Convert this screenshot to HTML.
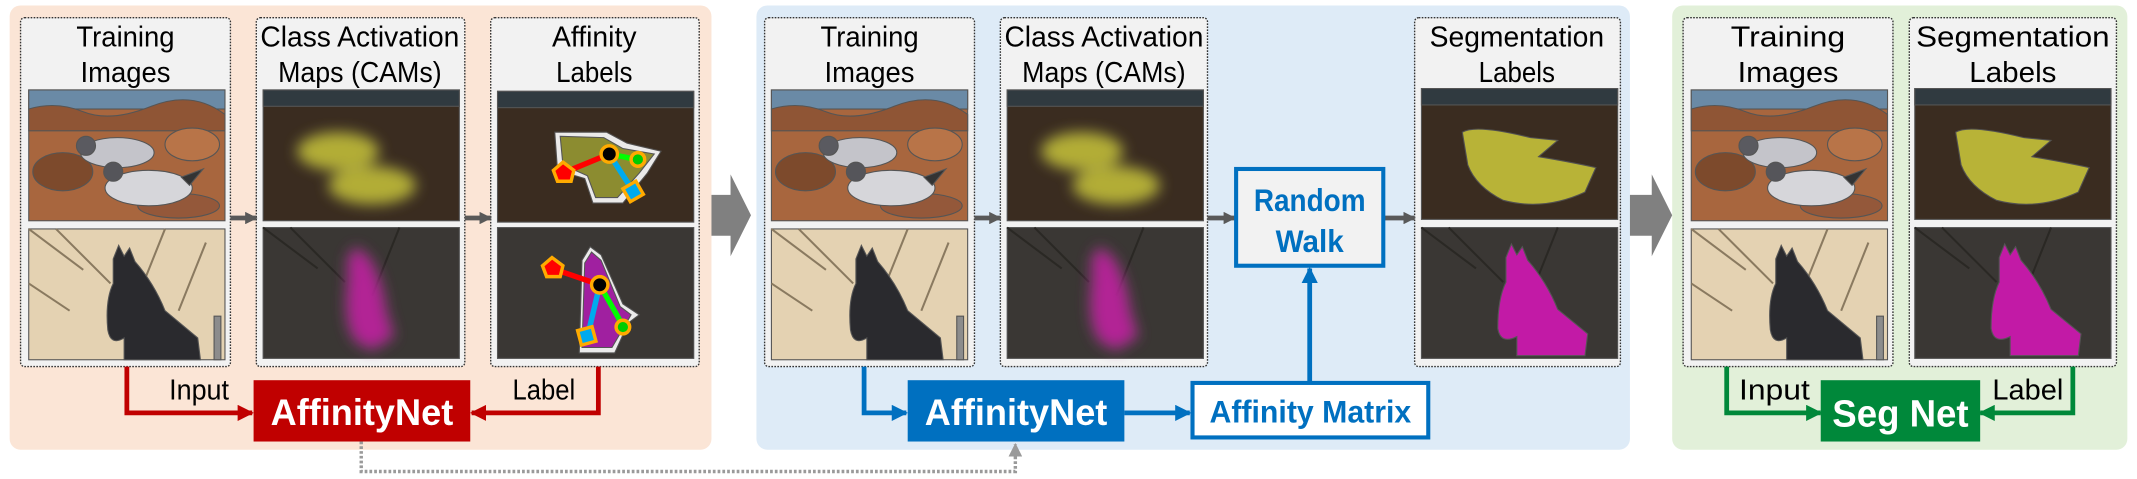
<!DOCTYPE html>
<html><head><meta charset="utf-8"><style>html,body{margin:0;padding:0;background:#fff}svg{display:block}</style></head>
<body>
<svg width="2137" height="479" viewBox="0 0 1568 351.5" xmlns="http://www.w3.org/2000/svg" font-family="'Liberation Sans', sans-serif">
<defs>
<filter id="bl" x="-50%" y="-50%" width="200%" height="200%"><feGaussianBlur stdDeviation="5"/></filter>
<g id="bird">
<rect width="144" height="96" fill="#a8663e"/>
<rect width="144" height="14" fill="#6a8aa6"/>
<path d="M0 14 Q20 8 40 16 T90 12 T144 18 V30 H0Z" fill="#8f5535"/>
<ellipse cx="25" cy="60" rx="22" ry="14" fill="#7d4a2c"/>
<ellipse cx="120" cy="40" rx="20" ry="12" fill="#b87448"/>
<ellipse cx="110" cy="85" rx="30" ry="9" fill="#94583a"/>
<ellipse cx="65" cy="46" rx="27" ry="11" fill="#c4c4ca"/>
<circle cx="42" cy="41" r="7" fill="#5a5a60"/>
<ellipse cx="88" cy="72" rx="32" ry="13" fill="#d6d6da"/>
<circle cx="62" cy="60" r="7" fill="#55555a"/>
<path d="M112 64 L128 58 L118 70Z" fill="#333"/>
</g>
<g id="horse">
<rect width="144" height="96" fill="#e4d2b2"/>
<path d="M0 0 L40 30 M20 0 L60 40 M100 0 L80 50 M130 10 L110 60 M0 40 L30 60" stroke="#8a7a60" stroke-width="1.5"/>
<path d="M62 22 L66 12 L70 20 L74 14 L78 24 Q92 40 100 60 L124 80 L126 96 H70 L70 80 Q60 86 58 74 Q56 52 62 40Z" fill="#2a2a2e"/>
<rect x="136" y="64" width="5" height="32" fill="#8c8c8c"/>
</g>
<g id="camb">
<rect width="144" height="96" fill="#3a2c20"/>
<rect width="144" height="12" fill="#303a40"/>
<g filter="url(#bl)" fill="#c8c43a" opacity="0.85"><ellipse cx="55" cy="45" rx="30" ry="14"/><ellipse cx="80" cy="70" rx="32" ry="14"/></g>
</g>
<g id="camh">
<rect width="144" height="96" fill="#3a3734"/>
<path d="M0 0 L40 30 M20 0 L60 40 M100 0 L80 50" stroke="#2a2824" stroke-width="1.5"/>
<g filter="url(#bl)" fill="#c020a0" opacity="0.9"><path d="M62 22 L68 14 L78 22 Q88 40 90 60 L96 80 L80 90 L68 84 Q58 70 62 40Z"/></g>
</g>
<g id="segb">
<rect width="144" height="96" fill="#3a2c20"/>
<rect width="144" height="12" fill="#303a40"/>
<path d="M30 32 Q40 26 80 36 L100 38 L86 50 Q110 54 128 58 L120 76 Q90 90 60 82 Q40 72 34 56Z" fill="#c6c23a" opacity="0.9"/>
</g>
<g id="segh">
<rect width="144" height="96" fill="#3a3734"/>
<path d="M0 0 L40 30 M20 0 L60 40 M100 0 L80 50" stroke="#2a2824" stroke-width="1.5"/>
<path d="M62 22 L66 12 L70 20 L74 14 L78 24 Q92 40 100 60 L122 78 L120 94 H70 L70 80 Q58 86 56 74 Q56 52 62 40Z" fill="#c21aa6"/>
</g>
<g id="affb">
<rect width="144" height="96" fill="#3a2c20"/>
<rect width="144" height="12" fill="#303a40"/>
<path d="M42 30 L80 30 L95 38 L120 44 L110 60 L92 82 L70 82 L64 64 L44 58Z" fill="#fff" opacity="0.9"/>
<path d="M46 33 L78 34 L92 42 L115 46 L104 60 L88 78 L72 78 L66 62 L48 54Z" fill="#8c8c30"/>
<g stroke-width="4"><line x1="48" y1="60" x2="82" y2="46" stroke="#f00"/><line x1="82" y1="46" x2="102" y2="50" stroke="#0f0"/><line x1="82" y1="46" x2="100" y2="74" stroke="#0ae"/></g>
<path d="M48 52 L56 58 L54 66 L44 66 L41 58Z" fill="#f00" stroke="#fa0" stroke-width="2.5"/>
<circle cx="82" cy="46" r="6" fill="#000" stroke="#fa0" stroke-width="2.5"/>
<circle cx="103" cy="50" r="5" fill="#0c0" stroke="#fa0" stroke-width="2.5"/>
<rect x="94" y="68" width="11" height="11" fill="#0ae" stroke="#fa0" stroke-width="2.5" transform="rotate(-30 99.5 73.5)"/>
</g>
<g id="affh">
<rect width="144" height="96" fill="#3a3734"/>
<path d="M62 24 L68 14 L76 20 L92 56 L104 64 L96 70 L86 92 L60 92 Z" fill="#fff" opacity="0.9"/>
<path d="M64 26 L69 18 L76 24 L90 58 L98 64 L84 88 L62 88 Z" fill="#a020a0"/>
<g stroke-width="4"><line x1="40" y1="30" x2="75" y2="42" stroke="#f00"/><line x1="75" y1="42" x2="92" y2="72" stroke="#0f0"/><line x1="75" y1="42" x2="66" y2="80" stroke="#0ae"/></g>
<path d="M40 22 L48 28 L46 36 L36 36 L33 28Z" fill="#f00" stroke="#fa0" stroke-width="2.5"/>
<circle cx="75" cy="42" r="6" fill="#000" stroke="#fa0" stroke-width="2.5"/>
<circle cx="92" cy="73" r="5" fill="#0c0" stroke="#fa0" stroke-width="2.5"/>
<rect x="60" y="74" width="11" height="11" fill="#0ae" stroke="#fa0" stroke-width="2.5" transform="rotate(-15 65.5 79.5)"/>
</g>
<marker id="ar" viewBox="0 0 10 10" refX="9" refY="5" markerWidth="3.4" markerHeight="3.4" orient="auto"><path d="M0 0L10 5L0 10Z" fill="#c00000"/></marker>
<marker id="ab" viewBox="0 0 10 10" refX="9" refY="5" markerWidth="3.4" markerHeight="3.4" orient="auto"><path d="M0 0L10 5L0 10Z" fill="#0070c0"/></marker>
<marker id="ag" viewBox="0 0 10 10" refX="9" refY="5" markerWidth="3.4" markerHeight="3.4" orient="auto"><path d="M0 0L10 5L0 10Z" fill="#00883a"/></marker>
<marker id="ak" viewBox="0 0 10 10" refX="9" refY="5" markerWidth="2.6" markerHeight="2.6" orient="auto"><path d="M0 0L10 5L0 10Z" fill="#595959"/></marker>
<marker id="ad" viewBox="0 0 10 10" refX="9" refY="5" markerWidth="4" markerHeight="4" orient="auto"><path d="M0 0L10 5L0 10Z" fill="#9a9a9a"/></marker>
</defs>

<rect x="7" y="4" width="515" height="326" rx="8" fill="#fbe5d6"/>
<rect x="555" y="4" width="641" height="326" rx="8" fill="#deebf7"/>
<rect x="1227" y="4" width="334" height="326" rx="8" fill="#e2f0d9"/>

<path d="M522 143 H536 V128 L551 158 L536 188 V173 H522Z" fill="#808080"/>
<path d="M1196 143 H1212 V128 L1227 158 L1212 188 V173 H1196Z" fill="#808080"/>

<g fill="#f2f2f2" stroke="#333" stroke-width="1" stroke-dasharray="1.2 1">
<rect x="15" y="13" width="154" height="256" rx="3"/>
<rect x="188" y="13" width="153" height="256" rx="3"/>
<rect x="360" y="13" width="153" height="256" rx="3"/>
<rect x="561" y="13" width="154" height="256" rx="3"/>
<rect x="734" y="13" width="152" height="256" rx="3"/>
<rect x="1038" y="13" width="151" height="256" rx="3"/>
<rect x="1235" y="13" width="154" height="256" rx="3"/>
<rect x="1401" y="13" width="152" height="256" rx="3"/>
</g>

<g font-size="21" text-anchor="middle" fill="#000">
<text x="92" y="34" textLength="72" lengthAdjust="spacingAndGlyphs">Training</text><text x="92" y="60" textLength="66" lengthAdjust="spacingAndGlyphs">Images</text>
<text x="264" y="34" textLength="146" lengthAdjust="spacingAndGlyphs">Class Activation</text><text x="264" y="60" textLength="120" lengthAdjust="spacingAndGlyphs">Maps (CAMs)</text>
<text x="436" y="34" textLength="62" lengthAdjust="spacingAndGlyphs">Affinity</text><text x="436" y="60" textLength="56" lengthAdjust="spacingAndGlyphs">Labels</text>
<text x="638" y="34" textLength="72" lengthAdjust="spacingAndGlyphs">Training</text><text x="638" y="60" textLength="66" lengthAdjust="spacingAndGlyphs">Images</text>
<text x="810" y="34" textLength="146" lengthAdjust="spacingAndGlyphs">Class Activation</text><text x="810" y="60" textLength="120" lengthAdjust="spacingAndGlyphs">Maps (CAMs)</text>
<text x="1113" y="34" textLength="128" lengthAdjust="spacingAndGlyphs">Segmentation</text><text x="1113" y="60" textLength="56" lengthAdjust="spacingAndGlyphs">Labels</text>
<text x="1312" y="34" textLength="84" lengthAdjust="spacingAndGlyphs">Training</text><text x="1312" y="60" textLength="74" lengthAdjust="spacingAndGlyphs">Images</text>
<text x="1477" y="34" textLength="142" lengthAdjust="spacingAndGlyphs">Segmentation</text><text x="1477" y="60" textLength="64" lengthAdjust="spacingAndGlyphs">Labels</text>
</g>

<g stroke="#555" stroke-width="0.8">
<use href="#bird" x="21" y="66"/><use href="#horse" x="21" y="168"/>
<use href="#camb" x="193" y="66"/><use href="#camh" x="193" y="167"/>
<use href="#affb" x="365" y="67"/><use href="#affh" x="365" y="167"/>
<use href="#bird" x="566" y="66"/><use href="#horse" x="566" y="168"/>
<use href="#camb" x="739" y="66"/><use href="#camh" x="739" y="167"/>
<use href="#segb" x="1043" y="65"/><use href="#segh" x="1043" y="167"/>
<use href="#bird" x="1241" y="66"/><use href="#horse" x="1241" y="168"/>
<use href="#segb" x="1405" y="65"/><use href="#segh" x="1405" y="167"/>
</g>

<g stroke="#595959" stroke-width="3.5" marker-end="url(#ak)">
<line x1="169" y1="160" x2="188" y2="160"/>
<line x1="341" y1="160" x2="360" y2="160"/>
<line x1="715" y1="160" x2="734" y2="160"/>
<line x1="886" y1="160" x2="906" y2="160"/>
<line x1="1016" y1="160" x2="1038" y2="160"/>
</g>

<g stroke="#c00000" stroke-width="3.5" fill="none" marker-end="url(#ar)">
<path d="M93 269 V303 H185"/>
<path d="M439 269 V303 H346"/>
</g>
<rect x="186" y="279" width="159" height="45" fill="#c00000"/>
<text x="265.5" y="312" font-size="27" font-weight="bold" fill="#fff" text-anchor="middle" textLength="134" lengthAdjust="spacingAndGlyphs">AffinityNet</text>
<text x="146" y="293" font-size="21" text-anchor="middle" textLength="44" lengthAdjust="spacingAndGlyphs">Input</text>
<text x="399" y="293" font-size="21" text-anchor="middle" textLength="46" lengthAdjust="spacingAndGlyphs">Label</text>

<path d="M265 324 V346 H745 V326" stroke="#9a9a9a" stroke-width="2.5" fill="none" stroke-dasharray="2 1.5" marker-end="url(#ad)"/>

<g stroke="#0070c0" stroke-width="3.5" fill="none" marker-end="url(#ab)">
<path d="M634 269 V303 H665"/>
<path d="M825 303 H873"/>
<path d="M961 280 V197"/>
</g>
<rect x="666" y="279" width="159" height="45" fill="#0070c0"/>
<text x="745.5" y="312" font-size="27" font-weight="bold" fill="#fff" text-anchor="middle" textLength="134" lengthAdjust="spacingAndGlyphs">AffinityNet</text>
<rect x="875" y="281" width="173" height="40" fill="#fff" stroke="#0070c0" stroke-width="3"/>
<text x="961.5" y="310" font-size="23" font-weight="bold" fill="#0070c0" text-anchor="middle" textLength="148" lengthAdjust="spacingAndGlyphs">Affinity Matrix</text>
<rect x="907" y="124" width="108" height="71" fill="#f2f2f2" stroke="#0070c0" stroke-width="3"/>
<text x="961" y="155" font-size="23" font-weight="bold" fill="#0070c0" text-anchor="middle" textLength="82" lengthAdjust="spacingAndGlyphs">Random</text>
<text x="961" y="185" font-size="23" font-weight="bold" fill="#0070c0" text-anchor="middle" textLength="50" lengthAdjust="spacingAndGlyphs">Walk</text>

<g stroke="#00883a" stroke-width="3.5" fill="none" marker-end="url(#ag)">
<path d="M1267 269 V303 H1336"/>
<path d="M1521 269 V303 H1453"/>
</g>
<rect x="1336" y="279" width="117" height="45" fill="#00883a"/>
<text x="1394.5" y="313" font-size="28" font-weight="bold" fill="#fff" text-anchor="middle" textLength="100" lengthAdjust="spacingAndGlyphs">Seg Net</text>
<text x="1302" y="293" font-size="21" text-anchor="middle" textLength="52" lengthAdjust="spacingAndGlyphs">Input</text>
<text x="1488" y="293" font-size="21" text-anchor="middle" textLength="52" lengthAdjust="spacingAndGlyphs">Label</text>
</svg>
</body></html>
